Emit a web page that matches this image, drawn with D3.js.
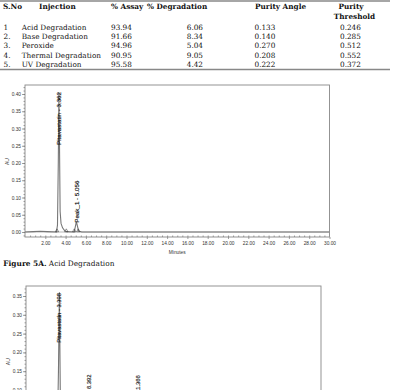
<!DOCTYPE html>
<html>
<head>
<meta charset="utf-8">
<script src="https://cdn.jsdelivr.net/npm/d3@7"></script>
<style>
  body { margin: 0; background: #fff; }
  svg { display: block; }
  .tbl { font-family: "DejaVu Serif", serif; font-size: 7.3px; fill: #111; }
  .tbl.head { font-weight: bold; }
  .axis text { font-family: "Liberation Sans", Arial, sans-serif; font-size: 4.8px; fill: #333; }
  .axis path, .axis line { stroke: #777; stroke-width: 0.7; }
</style>
</head>
<body>
<svg id="fig"></svg>
<script>

// table data
const sNo = ["1", "2.", "3.", "4.", "5."];
const injections = ["Acid Degradation", "Base Degradation", "Peroxide", "Thermal Degradation", "UV Degradation"];
const assay = ["93.94", "91.66", "94.96", "90.95", "95.58"];
const degradation = ["6.06", "8.34", "5.04", "9.05", "4.42"];
const purityAngle = ["0.133", "0.140", "0.270", "0.208", "0.222"];
const purityThreshold = ["0.246", "0.285", "0.512", "0.552", "0.372"];

// chromatogram A (acid) trace, minutes / AU
const traceA = [[0,0],[0.8,0.001],[1.5,0.002],[2.2,0.001],[3.1,0],[3.2,0.02],[3.28,0.2],[3.34,0.405],[3.4,0.25],[3.46,0.06],[3.55,0.025],[3.7,0.012],[3.9,0.004],[4.1,0.001],[4.85,0],[5.06,0.03],[5.28,0.003],[5.6,0],[30,0]];
const peaksA = [
  {time: 3.34, au: 0.405, label: "Pitavastatin - 3.362"},
  {time: 5.06, au: 0.03, label: "Peak_1 - 5.056"}
];
const marksA = [3.15, 4.07, 4.85, 5.25];

// chromatogram B (base) trace, only top part is on the page
const traceB = [[0,0],[3.2,0],[3.3,0.15],[3.398,0.36],[3.5,0.05],[3.8,0.005],[6.2,0],[6.392,0.039],[6.6,0],[11.1,0],[11.366,0.03],[11.6,0],[30,0]];
const peaksB = [
  {time: 3.398, au: 0.36, label: "Pitavastatin - 3.398"},
  {time: 6.392, au: 0.039, label: "Peak_1 - 6.392"},
  {time: 11.366, au: 0.03, label: "Peak_2 - 11.366"}
];

const yTicksA = d3.range(0, 0.401, 0.05);
const xTicks = d3.range(2, 30.1, 2);

const width = 402, height = 390;

const svg = d3.select("#fig")
  .attr("width", width)
  .attr("height", height);

svg.append("rect").attr("width", width).attr("height", height).attr("fill", "#fff");

// ---------- table ----------
const tbl = svg.append("g");
tbl.append("line").attr("x1", 0).attr("x2", 390).attr("y1", 1).attr("y2", 1)
  .attr("stroke", "#888").attr("stroke-width", 1.4);
tbl.append("line").attr("x1", 0).attr("x2", 390).attr("y1", 69.5).attr("y2", 69.5)
  .attr("stroke", "#888").attr("stroke-width", 1.4);

const heads = [
  {t: "S.No", x: 3, y: 6.7, a: "start"},
  {t: "Injection", x: 39, y: 6.7, a: "start"},
  {t: "% Assay", x: 111, y: 6.7, a: "start"},
  {t: "% Degradation", x: 147, y: 6.7, a: "start"},
  {t: "Purity Angle", x: 255, y: 6.7, a: "start"},
  {t: "Purity", x: 351, y: 6.7, a: "middle"},
  {t: "Threshold", x: 354.5, y: 16, a: "middle"}
];
tbl.selectAll("text.head").data(heads).enter().append("text")
  .attr("class", "tbl head")
  .attr("x", d => d.x).attr("y", d => d.y).attr("dy", "0.35em")
  .attr("text-anchor", d => d.a)
  .text(d => d.t);

const rowY = d3.scalePoint().domain(d3.range(5)).range([27, 64.3]);
const cols = [
  {vals: sNo, x: 3.5, a: "start"},
  {vals: injections, x: 21.7, a: "start"},
  {vals: assay, x: 111, a: "start"},
  {vals: degradation, x: 203, a: "end"},
  {vals: purityAngle, x: 254.5, a: "start"},
  {vals: purityThreshold, x: 340, a: "start"}
];
cols.forEach(c => {
  tbl.selectAll(null).data(c.vals).enter().append("text")
    .attr("class", "tbl")
    .attr("x", c.x).attr("y", (d, i) => rowY(i)).attr("dy", "0.35em")
    .attr("text-anchor", c.a)
    .text(d => d);
});

// ---------- chromatogram drawing ----------
function chromatogram(opt) {
  const g = svg.append("g");
  const x = d3.scaleLinear().domain([0, 30]).range([opt.left, opt.right]);
  const y = d3.scaleLinear().domain(opt.yDomain).range(opt.yRange);
  const top = opt.top, bottom = opt.bottom;

  const clipId = "clip" + opt.id;
  g.append("clipPath").attr("id", clipId).append("rect")
    .attr("x", opt.left).attr("y", top).attr("width", opt.right - opt.left).attr("height", bottom - top);

  // frame
  g.append("rect")
    .attr("x", opt.left).attr("y", top)
    .attr("width", opt.right - opt.left).attr("height", bottom - top)
    .attr("fill", "none").attr("stroke", "#888").attr("stroke-width", 0.9);

  // y axis with minor ticks
  const yMinor = d3.range(opt.yMinorFrom, opt.yMinorTo + 0.0001, 0.01).filter(v => y(v) >= top && y(v) <= bottom);
  g.append("g").attr("class", "axis")
    .attr("transform", "translate(" + opt.left + ",0)")
    .call(d3.axisLeft(y).tickValues(yMinor).tickSize(1.5).tickFormat(""))
    .select(".domain").remove();
  g.append("g").attr("class", "axis")
    .attr("transform", "translate(" + opt.left + ",0)")
    .call(d3.axisLeft(y).tickValues(opt.yTicks.filter(v => y(v) >= top && y(v) <= bottom)).tickSize(3).tickPadding(1).tickFormat(d3.format(".2f")))
    .select(".domain").remove();

  g.append("text")
    .attr("transform", "translate(" + opt.auX + "," + opt.auY + ") rotate(-90)")
    .attr("text-anchor", "middle")
    .attr("font-family", "Liberation Sans, Arial, sans-serif")
    .attr("font-size", "5px").attr("fill", "#333")
    .text("AU");

  if (opt.xAxis) {
    g.append("g").attr("class", "axis")
      .attr("transform", "translate(0," + bottom + ")")
      .call(d3.axisTop(x).tickValues(d3.range(0.5, 30, 0.5)).tickSize(1.5).tickFormat(""))
      .select(".domain").remove();
    g.append("g").attr("class", "axis")
      .attr("transform", "translate(0," + bottom + ")")
      .call(d3.axisBottom(x).tickValues(xTicks).tickSize(2).tickPadding(3).tickFormat(d3.format(".2f")))
      .select(".domain").remove();
    g.append("text")
      .attr("x", (opt.left + opt.right) / 2).attr("y", bottom + 16.5)
      .attr("text-anchor", "middle")
      .attr("font-family", "Liberation Sans, Arial, sans-serif")
      .attr("font-size", "4.8px").attr("fill", "#333")
      .text("Minutes");
  }

  // baseline
  g.append("line")
    .attr("x1", opt.left).attr("x2", opt.right)
    .attr("y1", y(0)).attr("y2", y(0))
    .attr("stroke", "#999").attr("stroke-width", 0.7);

  const line = d3.line().x(d => x(d[0])).y(d => y(d[1]));
  g.append("path")
    .datum(opt.trace)
    .attr("clip-path", "url(#" + clipId + ")")
    .attr("d", line)
    .attr("fill", "none")
    .attr("stroke", "#777")
    .attr("stroke-width", 1.1);

  // integration marks
  if (opt.marks) {
    g.selectAll("path.mark").data(opt.marks).enter().append("path")
      .attr("class", "mark")
      .attr("transform", d => "translate(" + x(d) + "," + (y(0) - 1.2) + ")")
      .attr("d", d3.symbol().type(d3.symbolTriangle).size(5))
      .attr("fill", "none").attr("stroke", "#333").attr("stroke-width", 0.5);
  }

  // peak labels
  opt.peaks.forEach(p => {
    const t = g.append("text")
      .attr("font-family", "Liberation Sans, Arial, sans-serif")
      .attr("font-size", opt.labelSize + "px")
      .attr("fill", "#111")
      .attr("stroke", "#111").attr("stroke-width", 0.15)
      .attr("dy", "0.35em")
      .text(p.label);
    const len = t.node().getComputedTextLength();
    let ys = y(p.au) + 1, anchor = "start";
    if (ys - len < top + 6) { ys = top + 7; anchor = "end"; }
    t.attr("text-anchor", anchor)
      .attr("transform", "translate(" + x(p.time) + "," + ys + ") rotate(-90)");
  });
}

chromatogram({
  id: "A", left: 25, right: 329.5, top: 85, bottom: 237,
  yDomain: [0, 0.40], yRange: [232, 94],
  yTicks: yTicksA, yMinorFrom: -0.01, yMinorTo: 0.42,
  auX: 8.5, auY: 161.5, xAxis: true,
  trace: traceA, peaks: peaksA, marks: marksA, labelSize: 6.2
});

svg.append("text")
  .attr("x", 3.3).attr("y", 263.3).attr("dy", "0.35em")
  .attr("font-family", "DejaVu Serif, serif")
  .attr("font-size", "7.4px").attr("fill", "#111")
  .call(t => {
    t.append("tspan").attr("font-weight", "bold").text("Figure 5A.");
    t.append("tspan").text(" Acid Degradation");
  });

chromatogram({
  id: "B", left: 26, right: 321, top: 286, bottom: 400,
  yDomain: [0, 0.35], yRange: [427.6, 296],
  yTicks: d3.range(0, 0.351, 0.05), yMinorFrom: 0, yMinorTo: 0.37,
  auX: 10, auY: 361.7, xAxis: false,
  trace: traceB, peaks: peaksB, marks: null, labelSize: 5.8
});

</script>
</body>
</html>
